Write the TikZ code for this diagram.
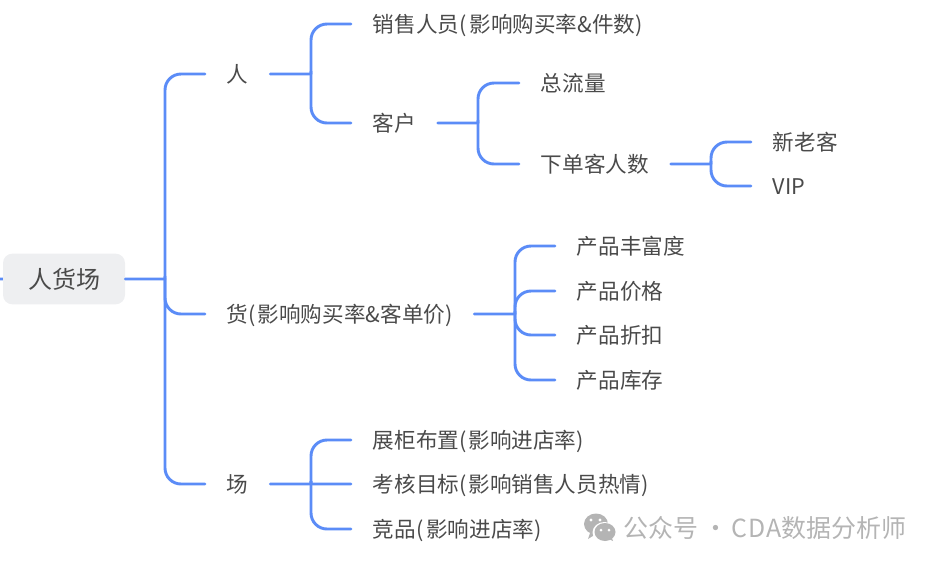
\documentclass[tikz,border=0pt]{standalone}
\usepackage{fontspec}
\setmainfont{Noto Sans CJK SC}
\definecolor{branch}{HTML}{5B8CF7}
\definecolor{ink}{HTML}{4A4A4A}
\definecolor{rootfill}{HTML}{EEEFF1}
\definecolor{wmgrey}{HTML}{B4B4B4}
\tikzset{
  x=0.75pt,y=-0.75pt,
  item/.style={anchor=west,inner xsep=16.2pt,inner ysep=0pt,text=ink,font=\fontsize{16.2}{18}\selectfont,text height=15.5pt,text depth=2.5pt},
  rootbox/.style={rounded corners=7pt,fill=rootfill,text=ink,font=\fontsize{18}{20}\selectfont,minimum width=91.5pt,minimum height=38pt,inner sep=0pt},
  link/.style={draw=branch,line width=2.2pt,line cap=round},
  curvelink/.style={link,rounded corners=12pt},
  tinycurve/.style={link,rounded corners=0.6pt},
}
\newcommand{\stem}[2]{\draw[tinycurve] (#1.east) -- (#1.east -| #2) -- ([yshift=2pt]#1.east -| #2);}
\newcommand{\twig}[3]{\draw[curvelink] (#1.east -| #2) -- (#3.west -| #2) -- (#3.west);}
\begin{document}
\begin{tikzpicture}
\useasboundingbox (0,0) rectangle (936,565);
\coordinate (stub) at (0,279);
\coordinate (stubin) at (12,279);
\draw[tinycurve,line cap=butt] (stub) -- (stubin) -- ([yshift=2pt]stubin);
\node[rootbox] (root) at (64,279) {人货场};
\coordinate (t0) at (165,0);
\coordinate (t1) at (311,0);
\coordinate (t2) at (478,0);
\coordinate (t3) at (711,0);
\coordinate (t4) at (515,0);
\coordinate (t5) at (311,0);
\node[item] (ren) at (205,74) {人};
\node[item] (huo) at (205,314) {货(\kern1.5pt 影响购买率\&客单价)};
\node[item] (chang) at (205,484) {场};
\node[item] (sales) at (351,24) {销售人员(\kern2.2pt 影响购买率\&件数)};
\node[item] (cust) at (351,123) {客户};
\node[item] (flow) at (519,83) {总流量};
\node[item] (orders) at (519,164) {下单客人数};
\node[item] (newold) at (751,142) {新老客};
\node[item] (vip) at (751,186) {VIP};
\node[item] (p1) at (555,246) {产品丰富度};
\node[item] (p2) at (555,291) {产品价格};
\node[item] (p3) at (555,335) {产品折扣};
\node[item] (p4) at (555,380) {产品库存};
\node[item] (c1) at (351,440) {展柜布置(\kern1.5pt 影响进店率)};
\node[item] (c2) at (351,484) {考核目标(\kern1.5pt 影响销售人员热情)};
\node[item] (c3) at (351,529) {竞品(\kern2.2pt 影响进店率)};

\stem{root}{t0}
\twig{root}{t0}{ren}\twig{root}{t0}{huo}\twig{root}{t0}{chang}
\stem{ren}{t1}
\twig{ren}{t1}{sales}\twig{ren}{t1}{cust}
\stem{cust}{t2}
\twig{cust}{t2}{flow}\twig{cust}{t2}{orders}
\stem{orders}{t3}
\twig{orders}{t3}{newold}\twig{orders}{t3}{vip}
\stem{huo}{t4}
\twig{huo}{t4}{p1}\twig{huo}{t4}{p2}\twig{huo}{t4}{p3}\twig{huo}{t4}{p4}
\stem{chang}{t5}
\twig{chang}{t5}{c1}\twig{chang}{t5}{c3}
\draw[tinycurve] ([yshift=2pt]c2.west -| t5) -- (c2.west -| t5) -- (c2.west);

% watermark
\fill[wmgrey] (596,524) ellipse [x radius=12,y radius=10.5];
\fill[wmgrey] (590,533) -- (588,539) -- (596,534) -- cycle;
\fill[white] (604.5,532.5) ellipse [x radius=12,y radius=10.5];
\fill[wmgrey] (605,532) ellipse [x radius=10.5,y radius=9];
\fill[wmgrey] (609,539) -- (613,541) -- (611,536) -- cycle;
\fill[white] (591,520) circle (1.7) (600,520) circle (1.7) (601,530) circle (1.5) (609,530) circle (1.5);
\node[anchor=west,inner sep=0pt,text=wmgrey,font=\fontsize{18.7}{20}\selectfont] (wm) at (623,528) {公众号 ·\kern2pt C\kern.7pt D\kern.7pt A数据分析师};
\end{tikzpicture}
\end{document}
